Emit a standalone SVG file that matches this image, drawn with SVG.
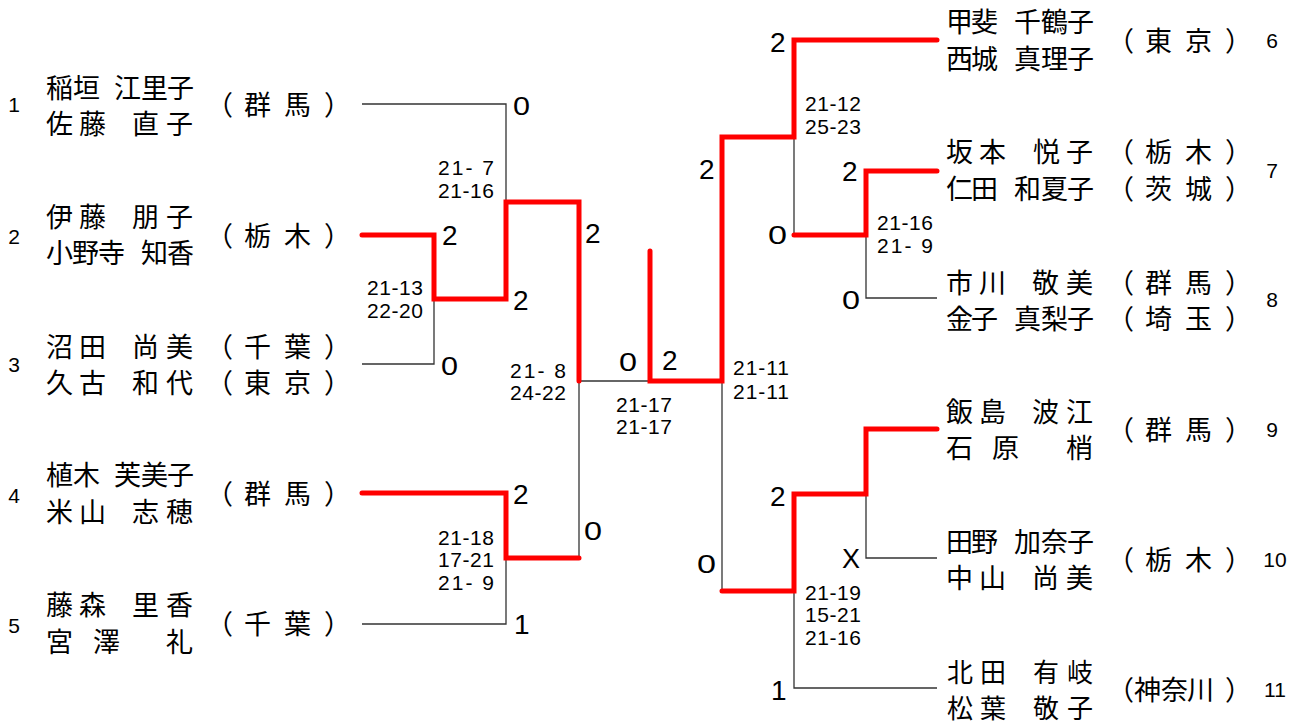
<svg xmlns="http://www.w3.org/2000/svg" width="1295" height="724" viewBox="0 0 1295 724">
<style>
.nm{font-family:"Noto Sans CJK JP","Noto Sans CJK SC",sans-serif;font-size:27px;fill:#000}
.nm2{font-family:"Noto Sans CJK JP","Noto Sans CJK SC",sans-serif;font-size:26px;fill:#000}
.sd{font-family:"Liberation Sans",sans-serif;font-size:21px;fill:#000;text-anchor:middle}
.gs{font-family:"Liberation Sans",sans-serif;font-size:21px;fill:#000}
.sc{font-family:"Liberation Sans",sans-serif;font-size:28px;fill:#000}
.z{font-family:"Liberation Sans",sans-serif;font-size:25px;fill:#000}
.red{fill:none;stroke:#ff0000;stroke-width:5;stroke-linecap:round;stroke-linejoin:miter}
.blk{fill:none;stroke:#333;stroke-width:1.3}
</style>
<rect width="1295" height="724" fill="#fff"/>
<g id="connectors">
<path class="blk" d="M362,104 H506 V202"/>
<path class="blk" d="M362,364 H434 V299"/>
<path class="blk" d="M362,624 H506 V558"/>
<path class="blk" d="M579,381 V558"/>
<path class="blk" d="M579,381 H650"/>
<path class="blk" d="M794,137 V235"/>
<path class="blk" d="M866,235 V298 H937"/>
<path class="blk" d="M722,381 V591"/>
<path class="blk" d="M866,494 V558 H937"/>
<path class="blk" d="M794,591 V688 H937"/>
<path class="red" d="M362,235 H434 V299 H506 V202 H579 V381"/>
<path class="red" d="M362,493 H506 V558 H579"/>
<path class="red" d="M650,251 V381 H722 V137 H794 V40 H937"/>
<path class="red" d="M794,235 H866 V171 H937"/>
<path class="red" d="M722,591 H794 V494 H866 V429 H937"/>
</g>
<g id="p1">
<text class="sd" x="14" y="112">1</text>
<text class="nm" x="46 73 100 114 141 167" y="98">稲垣 江里子</text>
<text class="nm" x="46 79 110 132 166" y="134">佐藤 直子</text>
<text class="nm" x="206 244 284 324" y="115">（群馬）</text>
</g>
<g id="p2">
<text class="sd" x="14" y="244">2</text>
<text class="nm" x="46 79 110 132 166" y="227">伊藤 朋子</text>
<text class="nm" x="46 72 98 125 141 167" y="263">小野寺 知香</text>
<text class="nm" x="206 244 284 324" y="246">（栃木）</text>
</g>
<g id="p3">
<text class="sd" x="14" y="372">3</text>
<text class="nm" x="46 79 110 132 166" y="357">沼田 尚美</text>
<text class="nm" x="46 79 110 132 166" y="393">久古 和代</text>
<text class="nm" x="206 244 284 324" y="357">（千葉）</text>
<text class="nm" x="206 244 284 324" y="393">（東京）</text>
</g>
<g id="p4">
<text class="sd" x="14" y="503">4</text>
<text class="nm" x="46 73 100 114 141 167" y="485">植木 芙美子</text>
<text class="nm" x="46 79 110 132 166" y="522">米山 志穂</text>
<text class="nm" x="206 244 284 324" y="504">（群馬）</text>
</g>
<g id="p5">
<text class="sd" x="14" y="633">5</text>
<text class="nm" x="46 79 110 132 166" y="615">藤森 里香</text>
<text class="nm" x="46 72 93 125 166" y="652">宮 澤 礼</text>
<text class="nm" x="206 244 284 324" y="634">（千葉）</text>
</g>
<g id="p6">
<text class="sd" x="1272" y="48">6</text>
<text class="nm" x="946 971 998 1014 1041 1067" y="32">甲斐 千鶴子</text>
<text class="nm" x="946 971 998 1014 1041 1067" y="69">西城 真理子</text>
<text class="nm" x="1107 1145 1185 1225" y="51">（東京）</text>
</g>
<g id="p7">
<text class="sd" x="1272" y="178">7</text>
<text class="nm" x="946 979 1010 1033 1066" y="162">坂本 悦子</text>
<text class="nm" x="946 971 998 1014 1041 1067" y="199">仁田 和夏子</text>
<text class="nm" x="1107 1145 1185 1225" y="162">（栃木）</text>
<text class="nm" x="1107 1145 1185 1225" y="199">（茨城）</text>
</g>
<g id="p8">
<text class="sd" x="1272" y="307">8</text>
<text class="nm" x="946 979 1010 1032 1066" y="293">市川 敬美</text>
<text class="nm" x="946 971 998 1014 1041 1067" y="329">金子 真梨子</text>
<text class="nm" x="1107 1145 1185 1225" y="293">（群馬）</text>
<text class="nm" x="1107 1145 1185 1225" y="329">（埼玉）</text>
</g>
<g id="p9">
<text class="sd" x="1272" y="437">9</text>
<text class="nm" x="946 979 1010 1032 1066" y="422">飯島 波江</text>
<text class="nm" x="946 970 992 1030 1066" y="458">石 原 梢</text>
<text class="nm" x="1107 1145 1185 1225" y="440">（群馬）</text>
</g>
<g id="p10">
<text class="sd" x="1275" y="567">10</text>
<text class="nm" x="946 971 998 1014 1041 1067" y="552">田野 加奈子</text>
<text class="nm" x="946 979 1010 1032 1066" y="588">中山 尚美</text>
<text class="nm" x="1107 1145 1185 1225" y="570">（栃木）</text>
</g>
<g id="p11">
<text class="sd" x="1275" y="697">11</text>
<text class="nm2" x="947 980 1010 1033 1067" y="682">北田 有岐</text>
<text class="nm2" x="947 980 1010 1033 1067" y="718">松葉 敬子</text>
<text class="nm" x="1107 1134 1161 1187 1225" y="700">（神奈川）</text>
</g>
<g id="game-scores">
<text class="gs" x="438" y="175" textLength="56" lengthAdjust="spacing" xml:space="preserve">21- 7</text>
<text class="gs" x="438" y="198" textLength="56" lengthAdjust="spacing">21-16</text>
<text class="gs" x="367" y="295" textLength="56" lengthAdjust="spacing">21-13</text>
<text class="gs" x="367" y="318" textLength="56" lengthAdjust="spacing">22-20</text>
<text class="gs" x="510" y="378" textLength="56" lengthAdjust="spacing" xml:space="preserve">21- 8</text>
<text class="gs" x="510" y="400" textLength="56" lengthAdjust="spacing">24-22</text>
<text class="gs" x="616" y="412" textLength="56" lengthAdjust="spacing">21-17</text>
<text class="gs" x="616" y="434" textLength="56" lengthAdjust="spacing">21-17</text>
<text class="gs" x="438" y="545" textLength="56" lengthAdjust="spacing">21-18</text>
<text class="gs" x="438" y="567" textLength="56" lengthAdjust="spacing">17-21</text>
<text class="gs" x="438" y="590" textLength="56" lengthAdjust="spacing" xml:space="preserve">21- 9</text>
<text class="gs" x="733" y="375" textLength="56" lengthAdjust="spacing">21-11</text>
<text class="gs" x="733" y="399" textLength="56" lengthAdjust="spacing">21-11</text>
<text class="gs" x="805" y="111" textLength="56" lengthAdjust="spacing">21-12</text>
<text class="gs" x="805" y="134" textLength="56" lengthAdjust="spacing">25-23</text>
<text class="gs" x="877" y="230" textLength="56" lengthAdjust="spacing">21-16</text>
<text class="gs" x="877" y="253" textLength="56" lengthAdjust="spacing" xml:space="preserve">21- 9</text>
<text class="gs" x="805" y="600" textLength="56" lengthAdjust="spacing">21-19</text>
<text class="gs" x="805" y="622" textLength="56" lengthAdjust="spacing">15-21</text>
<text class="gs" x="805" y="645" textLength="56" lengthAdjust="spacing">21-16</text>
</g>
<g id="match-scores">
<text class="z" x="513" y="115" textLength="17" lengthAdjust="spacingAndGlyphs">0</text>
<text class="sc" x="442" y="245">2</text>
<text class="sc" x="513" y="310">2</text>
<text class="sc" x="585" y="243">2</text>
<text class="z" x="441" y="375" textLength="17" lengthAdjust="spacingAndGlyphs">0</text>
<text class="sc" x="513" y="504">2</text>
<text class="z" x="584" y="540" textLength="18" lengthAdjust="spacingAndGlyphs">0</text>
<text class="sc" x="514" y="634">1</text>
<text class="z" x="619" y="371" textLength="18" lengthAdjust="spacingAndGlyphs">0</text>
<text class="sc" x="662" y="370">2</text>
<text class="sc" x="699" y="179">2</text>
<text class="sc" x="770" y="52">2</text>
<text class="z" x="768" y="244" textLength="19" lengthAdjust="spacingAndGlyphs">0</text>
<text class="sc" x="842" y="181">2</text>
<text class="z" x="842" y="309" textLength="18" lengthAdjust="spacingAndGlyphs">0</text>
<text class="z" x="697" y="573" textLength="19" lengthAdjust="spacingAndGlyphs">0</text>
<text class="sc" x="770" y="506">2</text>
<text class="sc" x="842" y="568" textLength="18" lengthAdjust="spacingAndGlyphs">X</text>
<text class="sc" x="771" y="700">1</text>
</g>
</svg>
